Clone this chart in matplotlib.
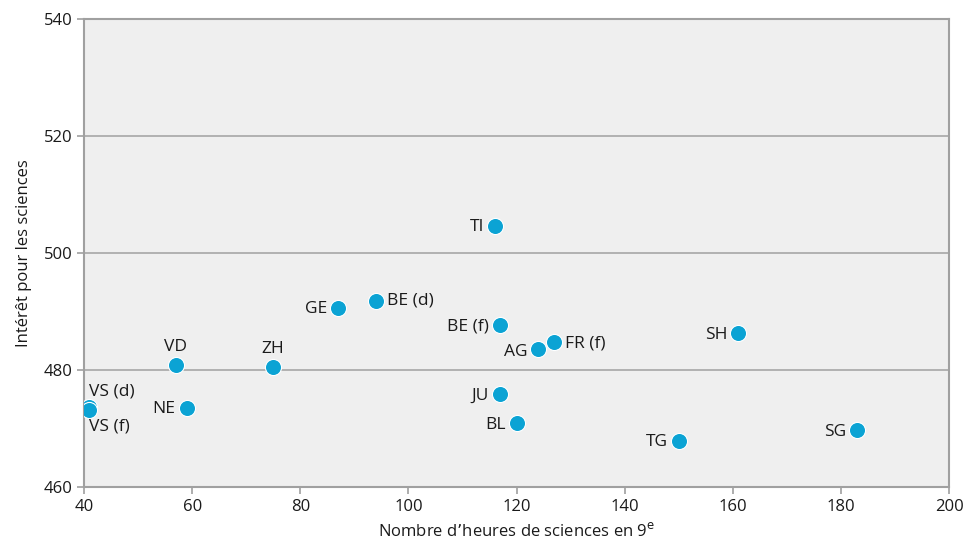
import matplotlib
matplotlib.use("Agg")
import matplotlib.pyplot as plt

plt.rcParams['font.family'] = ['Open Sans', 'DejaVu Sans']

# cantons, hours of science in 9th grade, interest score
cantons = ["TI", "GE", "BE (d)", "BE (f)", "AG", "FR (f)", "SH", "VD", "ZH",
           "VS (d)", "VS (f)", "NE", "JU", "BL", "TG", "SG"]
hours = [116, 87, 94, 117, 124, 127, 161, 57, 75, 41, 41, 59, 117, 120, 150, 183]
interest = [504.6, 490.6, 491.8, 487.7, 483.6, 484.8, 486.3, 480.9, 480.5,
            473.7, 473.2, 473.5, 475.9, 470.9, 467.9, 469.7]

# label offset (points) for each canton
offsets = {"TI": (-8, -1, "right", "center"), "GE": (-8, -1, "right", "center"),
           "BE (d)": (8, 0, "left", "center"), "BE (f)": (-8, -1, "right", "center"),
           "AG": (-8, -2, "right", "center"), "FR (f)": (8, -1, "left", "center"),
           "SH": (-8, -1, "right", "center"), "VD": (0, 7, "center", "bottom"),
           "ZH": (0, 7, "center", "bottom"), "VS (d)": (0, 5, "left", "bottom"),
           "VS (f)": (0, -6, "left", "top"), "NE": (-8, -1, "right", "center"),
           "JU": (-8, -1, "right", "center"), "BL": (-8, -1, "right", "center"),
           "TG": (-8, -1, "right", "center"), "SG": (-8, -1, "right", "center")}

fig = plt.figure(figsize=(9.67, 5.49), dpi=100)
ax = fig.add_axes([0.0869, 0.1129, 0.8945, 0.8525])
ax.set_facecolor("#efefef")

ax.scatter(hours, interest, s=135, color="#0ba3d4", edgecolor="white",
           linewidth=0.8, zorder=3)

for c, x, y in zip(cantons, hours, interest):
    dx, dy, ha, va = offsets[c]
    ax.annotate(c, (x, y), xytext=(dx, dy), textcoords="offset points",
                ha=ha, va=va, fontsize=12.5, color="#1a1a1a", zorder=4)

ax.set_xlim(40, 200)
ax.set_ylim(460, 540)
ax.set_xticks(range(40, 201, 20))
ax.set_yticks(range(460, 541, 20))
ax.grid(axis="y", color="#a6a6a6", linewidth=1.2, zorder=1)
ax.set_axisbelow(True)
for sp in ax.spines.values():
    sp.set_color("#a0a0a0")
    sp.set_linewidth(1.5)
ax.tick_params(direction="out", length=5, width=1.2, color="#a0a0a0",
               labelsize=12, labelcolor="#1a1a1a")

ax.set_xlabel("Nombre d\u2019heures de sciences en 9$^{\\mathrm{e}}$", fontsize=12,
              color="#1a1a1a", labelpad=5)
ax.set_ylabel("Intérêt pour les sciences", fontsize=12, color="#1a1a1a", labelpad=8)

fig.savefig("out.png", dpi=100)
